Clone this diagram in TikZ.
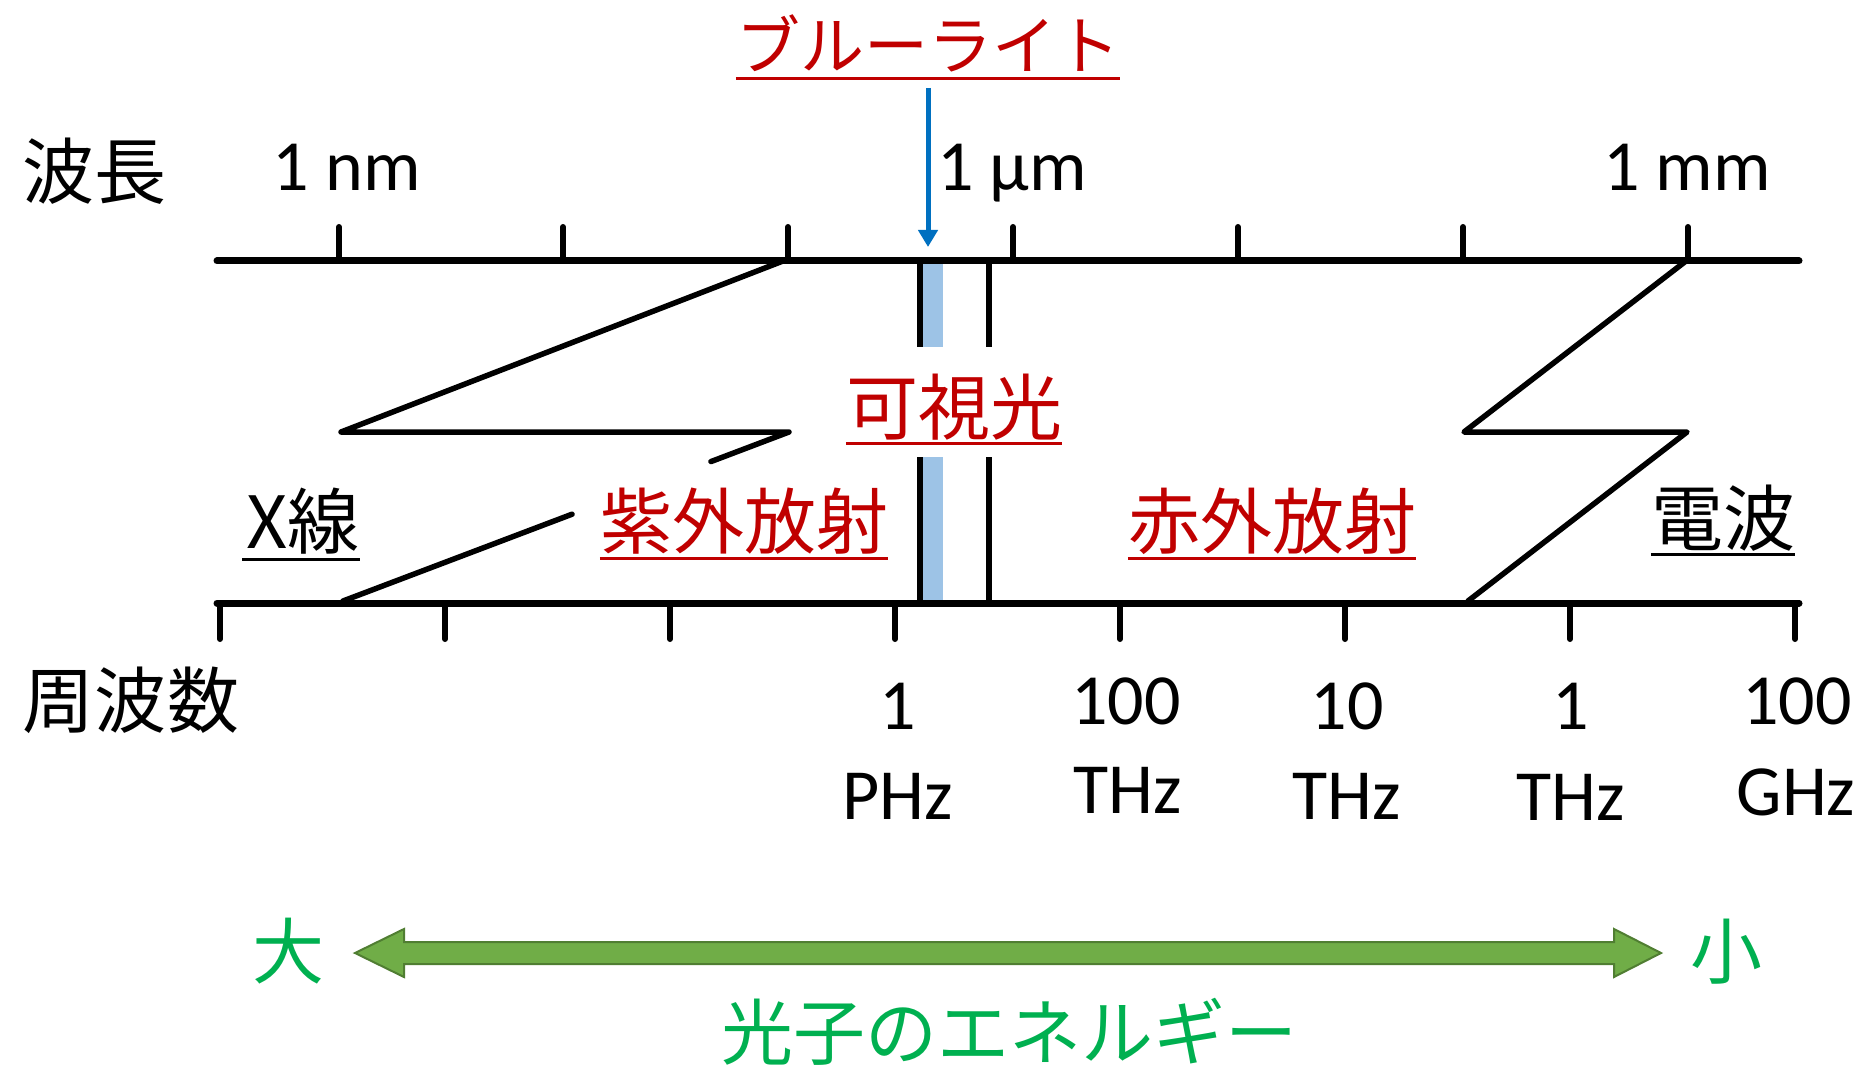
\documentclass[tikz,border=0pt]{standalone}
\usepackage{fontspec}
\setmainfont{Carlito}
\newfontfamily\jp{Noto Sans CJK JP}
\usetikzlibrary{calc,arrows.meta}
\definecolor{dred}{HTML}{C00000}
\definecolor{eblue}{HTML}{0070C0}
\definecolor{lblue}{HTML}{9DC3E6}
\definecolor{egreen}{HTML}{00B050}
\definecolor{afill}{HTML}{70AD47}
\definecolor{aline}{HTML}{507E32}
\begin{document}
\begin{tikzpicture}[x=1pt,y=-1pt,
  axisline/.style={line width=7pt,line cap=round},
  tickline/.style={line width=6pt,line cap=round},
  zig/.style={line width=5.5pt,line join=round,line cap=round},
  visline/.style={line width=5.5pt},
  lat/.style={inner sep=0pt,anchor=base,font=\fontsize{72}{80}\selectfont},
  jptxt/.style={inner sep=0pt,anchor=base,font=\jp\fontsize{72}{80}\selectfont},
  uline/.style={line width=3pt}]
\useasboundingbox (0,0) rectangle (1876,1067);
% visible band
\fill[lblue] (923,264) rectangle (943,347);
\fill[lblue] (923,457) rectangle (943,600);
\draw[visline] (920,261) -- (920,347);
\draw[visline] (920,457) -- (920,603);
\draw[visline] (989,261) -- (989,347);
\draw[visline] (989,457) -- (989,603);
% zigzags
\coordinate (L1) at (783,261);
\coordinate (L2) at (341,432);
\coordinate (L3) at (789,432);
\coordinate (L4) at (343,601);
\draw[zig] (L1) -- (L2) -- (L3) -- ($(L3)!0.1749!(L4)$);
\draw[zig] ($(L3)!0.4865!(L4)$) -- (L4);
\coordinate (R1) at (1686,261);
\coordinate (R2) at (1464,432);
\coordinate (R3) at (1687,432);
\coordinate (R4) at (1468,601);
\draw[zig] (R1) -- (R2) -- (R3) -- (R4);
% axes
\coordinate (TA1) at (217,261); \coordinate (TA2) at (1799,261);
\coordinate (BA1) at (217,603); \coordinate (BA2) at (1799,603);
\draw[axisline] (TA1) -- (TA2);
\draw[axisline] (BA1) -- (BA2);
\foreach \x in {339,563,788,1013,1238,1463,1688} \draw[tickline] (\x,227) -- (\x,261);
\foreach \x in {220,445,670,895,1120,1345,1570,1795} \draw[tickline] (\x,603) -- (\x,639);
% blue light
\node[jptxt,text=dred,font=\jp\fontsize{64}{70}\selectfont] (blue) at (928,70) {ブルーライト};
\draw[uline,dred] ([yshift=-9pt]blue.base west) -- ([yshift=-9pt]blue.base east);
\coordinate (bls) at (928,88);
\coordinate (ble) at (928,247);
\draw[eblue,line width=5pt,-{Triangle[width=19pt,length=17pt]}] (bls) -- (ble);
% wavelength labels
\node[jptxt] (hacho) at (95,199) {波長};
\node[lat] (nm) at (347,191) {1 nm};
\node[lat] (um) at (1012,191) {1 μm};
\node[lat] (mm) at (1687,191) {1 mm};
% region labels
\node[jptxt,text=dred] (kashi) at (954,434) {可視光};
\draw[uline,dred] ([yshift=-9pt]kashi.base west) -- ([yshift=-9pt]kashi.base east);
\node[jptxt,text=dred] (shigai) at (744,548) {紫外放射};
\draw[uline,dred] ([yshift=-10pt]shigai.base west) -- ([yshift=-10pt]shigai.base east);
\node[jptxt,text=dred] (sekigai) at (1272,548) {赤外放射};
\draw[uline,dred] ([yshift=-10pt]sekigai.base west) -- ([yshift=-10pt]sekigai.base east);
\node[jptxt] (xsen) at (303,548) {X線};
\draw[uline] ([yshift=-11pt,xshift=-4pt]xsen.base west) -- ([yshift=-11pt]xsen.base east);
\node[jptxt] (denpa) at (1723,545) {電波};
\draw[uline] ([yshift=-9pt]denpa.base west) -- ([yshift=-9pt]denpa.base east);
% frequency labels
\node[jptxt] (shuha) at (131,727) {周波数};
\node[lat] (f1a) at (898,729) {1};
\node[lat] (f1b) at (898,819) {PHz};
\node[lat] (f2a) at (1126,724) {100};
\node[lat] (f2b) at (1128,813) {THz};
\node[lat] (f3a) at (1347,729) {10};
\node[lat] (f3b) at (1347,819) {THz};
\node[lat] (f4a) at (1571,729) {1};
\node[lat] (f4b) at (1571,820) {THz};
\node[lat] (f5a) at (1797,724) {100};
\node[lat] (f5b) at (1796,815) {GHz};
% energy arrow
\draw[fill=afill,draw=aline,line width=2pt,line join=miter]
  (355,953) -- (404,929) -- (404,942) -- (1614,942) -- (1614,929) -- (1661,953)
  -- (1614,977) -- (1614,964) -- (404,964) -- (404,977) -- cycle;
\node[jptxt,text=egreen] (dai) at (288,978) {大};
\node[jptxt,text=egreen] (sho) at (1726,978) {小};
\node[jptxt,text=egreen] (energy) at (1009,1059) {光子のエネルギー};
\end{tikzpicture}
\end{document}
